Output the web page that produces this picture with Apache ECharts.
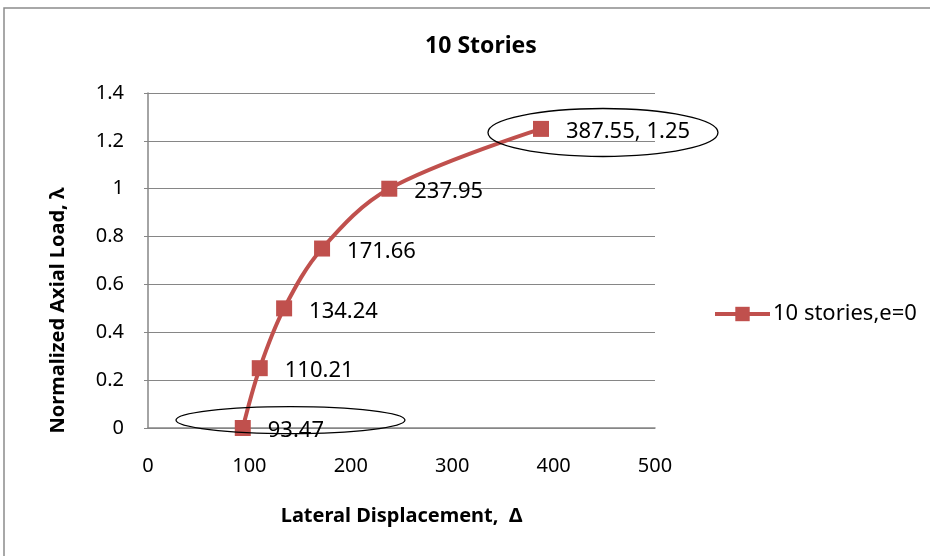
<!DOCTYPE html>
<html>
<head>
<meta charset="utf-8">
<script src="https://cdn.jsdelivr.net/npm/echarts@6/dist/echarts.min.js"></script>
<style>html,body{margin:0;padding:0;background:#fff}#c{width:930px;height:556px}</style>
</head>
<body>
<div id="c"></div>
<script>
const xValues = [93.47, 110.21, 134.24, 171.66, 237.95, 387.55];
const yValues = [0, 0.25, 0.5, 0.75, 1, 1.25];
const pointLabels = ['93.47', '110.21', '134.24', '171.66', '237.95', '387.55, 1.25'];
const seriesName = '10 stories,e=0';
const titleText = '10 Stories';
const xAxisTitle = 'Lateral Displacement,  \u0394';
const yAxisTitle = 'Normalized Axial Load, \u03bb';
// highlight ellipses (annotation): center in data units, radii in px
const ellipses = [
  {cx: 448.7, cy: 1.235, rx: 115, ry: 24},
  {cx: 140.5, cy: 0.033, rx: 114.5, ry: 13.5}
];

const FONT = 'Noto Sans';
const chart = echarts.init(document.getElementById('c'));
const data = xValues.map((x, i) => ({value: [x, yValues[i]], label: {formatter: pointLabels[i]}}));
chart.setOption({
  animation: false,
  backgroundColor: '#fff',
  title: {text: titleText, left: 476, top: 30, textAlign: 'center',
    textStyle: {fontFamily: FONT, fontSize: 23, fontWeight: 'bold', color: '#000'}},
  grid: {left: 148, right: 275, top: 93, bottom: 128},
  legend: {left: 708, top: 298, itemWidth: 55, itemHeight: 18, itemGap: 6,
    lineStyle: {width: 4},
    textStyle: {fontFamily: FONT, fontSize: 22, color: '#000', padding: [0,0,0,-2]},
    data: [seriesName]},
  xAxis: {type: 'value', min: 0, max: 500, interval: 100,
    name: xAxisTitle, nameLocation: 'middle', nameGap: 78,
    nameTextStyle: {fontFamily: FONT, fontSize: 20, fontWeight: 'bold', color: '#000'},
    axisLine: {show: true, onZero: false, lineStyle: {color: '#868686', width: 1.5}},
    axisTick: {show: false},
    axisLabel: {fontFamily: FONT, fontSize: 20, color: '#000', margin: 28},
    splitLine: {show: false}},
  yAxis: {type: 'value', min: 0, max: 1.4, interval: 0.2,
    name: yAxisTitle, nameLocation: 'middle', nameGap: 80,
    nameTextStyle: {fontFamily: FONT, fontSize: 20, fontWeight: 'bold', color: '#000',
      padding: [0, 100, 0, 0]},
    axisLine: {show: true, lineStyle: {color: '#868686', width: 1.5}},
    axisTick: {show: true, inside: false, length: 4, lineStyle: {color: '#868686'}},
    axisLabel: {fontFamily: FONT, fontSize: 20, color: '#000', margin: 24,
      formatter: v => String(Math.round(v * 10) / 10)},
    splitLine: {show: true, lineStyle: {color: '#868686', width: 1.2}}},
  series: [{
    name: seriesName, type: 'line', smooth: 0.35,
    data: data,
    symbol: 'rect', symbolSize: 16,
    itemStyle: {color: '#C0504D'},
    lineStyle: {color: '#C0504D', width: 4},
    label: {show: true, position: 'right', distance: 17, offset: [0, 3],
      fontFamily: FONT, fontSize: 22, color: '#000'}
  }]
});

const g = [{type: 'rect', shape: {x: 4, y: 8, width: 960, height: 600},
  style: {fill: 'none', stroke: '#8c8c8c', lineWidth: 1.5}, silent: true, z: -1}];
ellipses.forEach(e => {
  const p = chart.convertToPixel({gridIndex: 0}, [e.cx, e.cy]);
  g.push({type: 'ellipse', shape: {cx: p[0], cy: p[1], rx: e.rx, ry: e.ry},
    style: {fill: 'none', stroke: '#000', lineWidth: 1.3}, z: 100});
});
chart.setOption({graphic: g});
</script>
</body>
</html>
